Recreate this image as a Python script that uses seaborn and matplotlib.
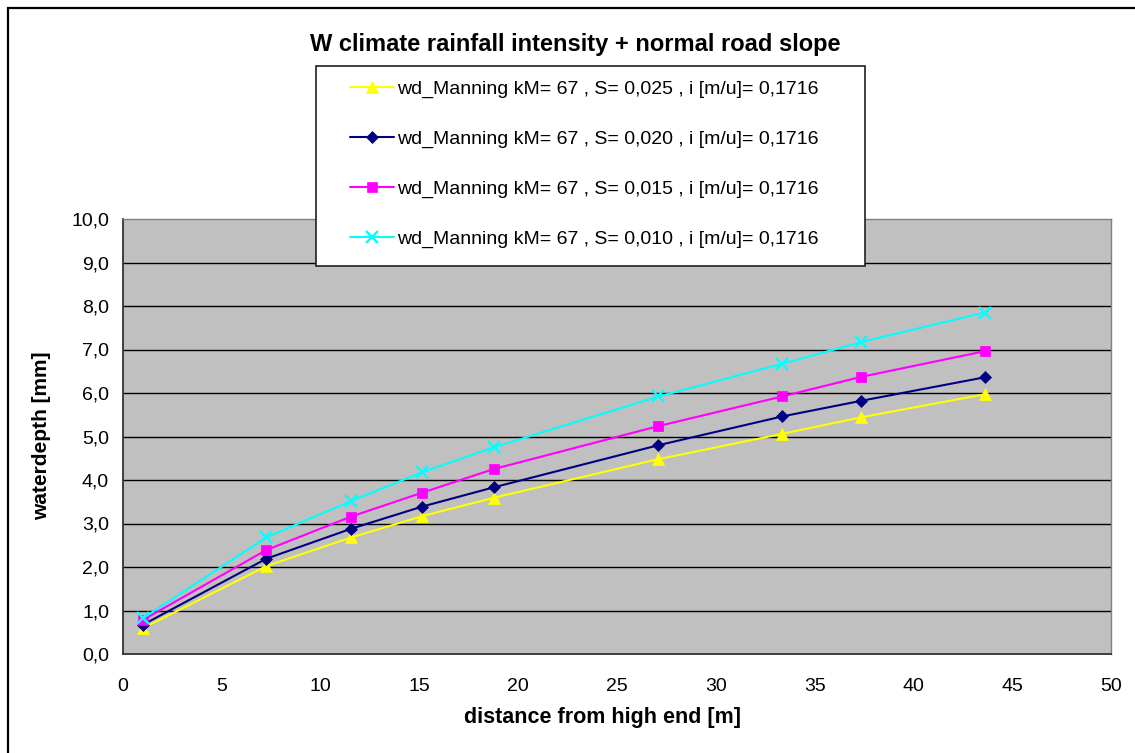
import matplotlib
matplotlib.use("Agg")
import matplotlib.pyplot as plt
import seaborn as sns
import pandas as pd
from matplotlib.patches import Rectangle
from matplotlib.ticker import FuncFormatter, MultipleLocator

# ---- data ----
distance = [1.0, 7.25, 11.55, 15.15, 18.75, 27.1, 33.35, 37.35, 43.6]
wd_s025 = [0.59, 2.02, 2.68, 3.17, 3.59, 4.48, 5.06, 5.44, 5.97]
wd_s020 = [0.67, 2.19, 2.88, 3.39, 3.83, 4.80, 5.46, 5.82, 6.36]
wd_s015 = [0.78, 2.39, 3.16, 3.71, 4.25, 5.24, 5.92, 6.37, 6.96]
wd_s010 = [0.82, 2.68, 3.52, 4.18, 4.75, 5.92, 6.67, 7.17, 7.85]
labels = [
    "wd_Manning kM= 67 , S= 0,025 , i [m/u]= 0,1716",
    "wd_Manning kM= 67 , S= 0,020 , i [m/u]= 0,1716",
    "wd_Manning kM= 67 , S= 0,015 , i [m/u]= 0,1716",
    "wd_Manning kM= 67 , S= 0,010 , i [m/u]= 0,1716",
]
title = "W climate rainfall intensity + normal road slope"
xlabel = "distance from high end [m]"
ylabel = "waterdepth [mm]"

series = [wd_s025, wd_s020, wd_s015, wd_s010]
colors = ["#FFFF00", "#000080", "#FF00FF", "#00FFFF"]
markers = ["^", "D", "s", "x"]
msizes = [8.5, 6.5, 7, 8.5]

sns.set_theme(style="white")
plt.rcParams["font.family"] = ["Liberation Sans", "DejaVu Sans"]
plt.rcParams["text.color"] = "black"
plt.rcParams["axes.labelcolor"] = "black"

W, H = 1135, 753
fig = plt.figure(figsize=(W / 100, H / 100), dpi=100)
fig.patch.set_facecolor("white")

L, R, T, B = 123, 1111, 219, 654
ax = fig.add_axes([L / W, 1 - B / H, (R - L) / W, (B - T) / H])
ax.set_facecolor("#C0C0C0")

for vals, c, m, ms, lab in zip(series, colors, markers, msizes, labels):
    df = pd.DataFrame({"x": distance, "y": vals})
    sns.lineplot(data=df, x="x", y="y", ax=ax, color=c, marker=m,
                 markersize=ms, markeredgecolor=c, markerfacecolor=c,
                 markeredgewidth=1.7 if m == "x" else 0.5,
                 linewidth=1.5, label=lab, legend=False, sort=False, zorder=3)

ax.set_xlim(0, 50)
ax.set_ylim(0, 10)
ax.xaxis.set_major_locator(MultipleLocator(5))
ax.yaxis.set_major_locator(MultipleLocator(1))
ax.yaxis.set_major_formatter(FuncFormatter(lambda v, p: f"{v:.1f}".replace(".", ",")))
ax.set_xlabel("")
ax.set_ylabel("")
for yv in range(1, 10):
    ax.axhline(yv, color="black", linewidth=1.0, zorder=1)

for s in ["left", "bottom"]:
    ax.spines[s].set_color("#333333")
    ax.spines[s].set_linewidth(1.3)
for s in ["top", "right"]:
    ax.spines[s].set_color("#808080")
    ax.spines[s].set_linewidth(1.0)

ax.tick_params(axis="both", direction="out", length=6, width=1, color="#333333",
               labelsize=14, labelcolor="black")
ax.tick_params(axis="x", pad=11)
ax.tick_params(axis="y", pad=4)

# outer frame
fig.patches.append(Rectangle((8 / W, -0.1), 1.2, 1 - 8 / H + 0.1, transform=fig.transFigure,
                             fill=False, edgecolor="black", linewidth=1.6, zorder=0))

# legend box
fig.patches.append(Rectangle((316 / W, 1 - 266 / H), 549 / W, 200 / H, transform=fig.transFigure,
                             facecolor="white", edgecolor="#202020", linewidth=1.2, zorder=5))
handles, labs = ax.get_legend_handles_labels()
leg = fig.legend(handles, labs, loc="upper left", bbox_to_anchor=(350 / W, 1 - 80 / H),
                 frameon=False, fontsize=14, labelspacing=1.66, handlelength=2.27,
                 handletextpad=0.15, borderpad=0, borderaxespad=0)
leg.set_zorder(6)

fig.text(575 / W, 1 - 44 / H, title, ha="center", va="center", fontsize=17, fontweight="bold")
fig.text(602 / W, 1 - 718 / H, xlabel, ha="center", va="center", fontsize=15.5, fontweight="bold")
fig.text(42 / W, 1 - 436 / H, ylabel, ha="center", va="center", rotation=90, fontsize=15, fontweight="bold")

fig.savefig("out.png", dpi=100)
